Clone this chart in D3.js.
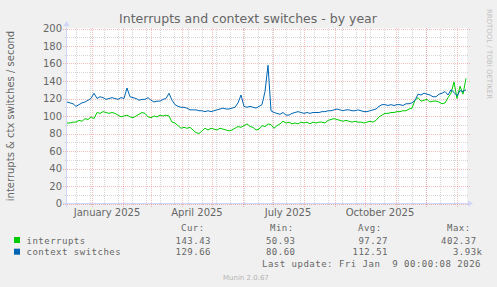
<!DOCTYPE html>
<html>
<head>
<meta charset="utf-8">
<script src="https://cdn.jsdelivr.net/npm/d3@7"></script>
<style>
body{margin:0;background:#f0f0f0}
svg{display:block}
text{font-family:"DejaVu Sans",sans-serif;fill:#666666}
.mono{font-family:"DejaVu Sans Mono",monospace;font-size:9px;letter-spacing:0.5px;white-space:pre}
</style>
</head>
<body>
<svg></svg>
<script>
var screen = {width:497,height:287}
var plot = {left:67,top:28,width:400,height:175}

// one sample every 3 days starting on this day
var startDay = "2024-12-07"
var endDay = "2026-01-11"
var stepDays = 3

var interrupts = [92,92,93,93,95,94,97,96,99,97,104,103,105,104,103,104,103,101,99,100,
    101,99,98,100,102,104,103,99,98,100,99,101,100,101,100,93,92,89,86,87,
    86,87,84,81,80,83,86,84,86,85,84,86,85,84,83,84,86,88,87,89,
    91,88,87,84,85,89,88,91,90,86,89,91,94,92,93,91,92,91,93,92,
    93,91,93,92,93,93,92,95,96,97,96,95,94,95,94,93,94,93,93,92,
    93,94,93,95,99,101,103,103,104,104,105,105,106,106,108,109,118,121,117,118,
    119,116,117,117,116,114,115,121,126,139,120,134,125,143]

var ctxSwitches = [116,115,114,111,113,115,116,118,120,126,120,122,121,119,120,121,120,119,121,120,
    132,122,121,120,118,119,119,121,118,116,117,117,119,120,126,118,113,111,110,110,
    109,107,107,107,106,106,105,106,105,106,107,108,109,108,108,109,110,115,124,111,
    110,111,110,109,111,113,128,158,106,104,103,102,104,101,101,103,104,105,104,103,
    104,103,104,104,104,105,105,106,106,107,108,107,106,107,107,106,106,107,106,105,
    105,106,107,108,111,113,113,112,113,112,113,113,112,114,114,115,118,125,124,126,
    125,124,122,122,125,126,128,124,130,127,123,129,128,130]

var yTicks = [0,20,40,60,80,100,120,140,160,180,200]
var yMinor = [10,30,50,70,90,110,130,150,170,190]
var quarterLabels = ["2025-01-01","2025-04-01","2025-07-01","2025-10-01"]

var seriesNames = ["interrupts","context switches"]
var curValues = ["143.43","129.66"]
var minValues = ["50.93","80.60"]
var avgValues = ["97.27","112.51"]
var maxValues = ["402.37 ","  3.93k"]
var lastUpdate = "Last update: Fri Jan  9 00:00:08 2026"

var colors = ["#00cc00","#0066b3"]

var parse = d3.utcParse("%Y-%m-%d")
var start = parse(startDay)
var dates = interrupts.map(function(v,i){return d3.utcDay.offset(start,i*stepDays)})

var svg = d3.select("svg")
    .attr("width",screen.width)
    .attr("height",screen.height)

var xScale = d3.scaleUtc()
    .domain([start,parse(endDay)])
    .range([plot.left,plot.left+plot.width])

var yScale = d3.scaleLinear()
    .domain([0,200])
    .range([plot.top+plot.height+0.5,plot.top+0.5])

// canvas
svg.append("rect")
    .attr("x",plot.left)
    .attr("y",plot.top)
    .attr("width",plot.width)
    .attr("height",plot.height)
    .attr("fill","#ffffff")

var grid = svg.append("g").attr("shape-rendering","crispEdges").attr("stroke-dasharray","1,1")
var minorColor = "rgba(140,140,140,0.35)"
var majorColor = "rgba(225,90,90,0.4)"

//minor horizontal grid
grid.selectAll(".hmin")
    .data(yMinor)
    .enter()
    .append("line")
    .attr("x1",plot.left-2)
    .attr("x2",plot.left+plot.width+2)
    .attr("y1",function(d){return Math.round(yScale(d))+0.5})
    .attr("y2",function(d){return Math.round(yScale(d))+0.5})
    .attr("stroke",minorColor)

//minor vertical grid, every second week
grid.selectAll(".vmin")
    .data(d3.utcMonday.every(2).range(start,parse(endDay)))
    .enter()
    .append("line")
    .attr("x1",function(d){return Math.round(xScale(d))+0.5})
    .attr("x2",function(d){return Math.round(xScale(d))+0.5})
    .attr("y1",plot.top)
    .attr("y2",plot.top+plot.height+2)
    .attr("stroke",minorColor)

//major grid
grid.selectAll(".hmaj")
    .data(yTicks)
    .enter()
    .append("line")
    .attr("x1",plot.left-4)
    .attr("x2",plot.left+plot.width+4)
    .attr("y1",function(d){return Math.round(yScale(d))+0.5})
    .attr("y2",function(d){return Math.round(yScale(d))+0.5})
    .attr("stroke",majorColor)

grid.selectAll(".vmaj")
    .data(d3.utcMonth.range(start,parse(endDay)))
    .enter()
    .append("line")
    .attr("x1",function(d){return Math.round(xScale(d))+0.5})
    .attr("x2",function(d){return Math.round(xScale(d))+0.5})
    .attr("y1",plot.top)
    .attr("y2",plot.top+plot.height+4)
    .attr("stroke",majorColor)

//tick labels
svg.selectAll(".ylab")
    .data(yTicks)
    .enter()
    .append("text")
    .attr("x",plot.left-5)
    .attr("y",function(d){return yScale(d)+3.5})
    .attr("text-anchor","end")
    .attr("font-size","10px")
    .text(function(d){return d})

var labelFormat = d3.utcFormat("%B %Y")
svg.selectAll(".xlab")
    .data(quarterLabels)
    .enter()
    .append("text")
    .attr("x",function(d){return xScale(d3.utcDay.offset(parse(d),15))})
    .attr("y",plot.top+plot.height+13)
    .attr("text-anchor","middle")
    .attr("font-size","10px")
    .text(function(d){return labelFormat(parse(d))})

//data lines
var series = [interrupts,ctxSwitches]
var line = d3.line()
    .x(function(d,i){return xScale(dates[i])})
    .y(function(d){return yScale(d)})

svg.selectAll(".series")
    .data(series)
    .enter()
    .append("path")
    .attr("d",line)
    .attr("fill","none")
    .attr("stroke",function(d,i){return colors[i]})
    .attr("stroke-width",1)

//axes with arrows
var axisColor = "#cfd6f8"
svg.append("line")
    .attr("x1",plot.left-4).attr("x2",plot.left+plot.width+1)
    .attr("y1",plot.top+plot.height+0.5).attr("y2",plot.top+plot.height+0.5)
    .attr("stroke",axisColor)
svg.append("line")
    .attr("x1",plot.left-0.5).attr("x2",plot.left-0.5)
    .attr("y1",plot.top+plot.height+4).attr("y2",plot.top-2)
    .attr("stroke",axisColor)
svg.append("path")
    .attr("d","M"+(plot.left-3.5)+","+(plot.top-2)+"L"+(plot.left+2.5)+","+(plot.top-2)+"L"+(plot.left-0.5)+","+(plot.top-7)+"Z")
    .attr("fill",axisColor)
svg.append("path")
    .attr("d","M"+(plot.left+plot.width+1)+","+(plot.top+plot.height-2.5)+"L"+(plot.left+plot.width+1)+","+(plot.top+plot.height+3.5)+"L"+(plot.left+plot.width+6)+","+(plot.top+plot.height+0.5)+"Z")
    .attr("fill",axisColor)

//titles
svg.append("text")
    .attr("x",248)
    .attr("y",23)
    .attr("text-anchor","middle")
    .attr("font-size","12.5px")
    .text("Interrupts and context switches - by year")

svg.append("text")
    .attr("transform","translate(14,116) rotate(-90)")
    .attr("text-anchor","middle")
    .attr("font-size","10px")
    .text("interrupts & ctx switches / second")

svg.append("text")
    .attr("transform","translate(487,54) rotate(90)")
    .attr("text-anchor","middle")
    .attr("font-size","7px")
    .style("fill","#c0c0c0")
    .text("RRDTOOL / TOBI OETIKER")

//legend
var legend = svg.append("g")
legend.selectAll("rect")
    .data(seriesNames)
    .enter()
    .append("rect")
    .attr("x",14)
    .attr("y",function(d,i){return 237+i*11.7})
    .attr("width",6)
    .attr("height",6)
    .attr("fill",function(d,i){return colors[i]})

var headers = [["Cur:",181],["Min:",270],["Avg:",358],["Max:",447]]
legend.selectAll(".head")
    .data(headers)
    .enter()
    .append("text")
    .attr("class","mono")
    .attr("x",function(d){return d[1]})
    .attr("y",231)
    .text(function(d){return d[0]})

legend.selectAll(".name")
    .data(seriesNames)
    .enter()
    .append("text")
    .attr("class","mono")
    .attr("x",26.5)
    .attr("y",function(d,i){return 243.5+i*11.7})
    .text(function(d){return d})

var columns = [[curValues,211],[minValues,295.5],[avgValues,388],[maxValues,482.5]]
columns.forEach(function(col)
{
    legend.selectAll(null)
        .data(col[0])
        .enter()
        .append("text")
        .attr("class","mono")
        .attr("x",col[1])
        .attr("y",function(d,i){return 243.5+i*11.7})
        .attr("text-anchor","end")
        .text(function(d){return d})
})

legend.append("text")
    .attr("class","mono")
    .attr("x",262)
    .attr("y",267)
    .text(lastUpdate)

svg.append("text")
    .attr("x",223)
    .attr("y",279.5)
    .attr("font-size","7px")
    .style("fill","#b4b4b4")
    .text("Munin 2.0.67")
</script>
</body>
</html>
